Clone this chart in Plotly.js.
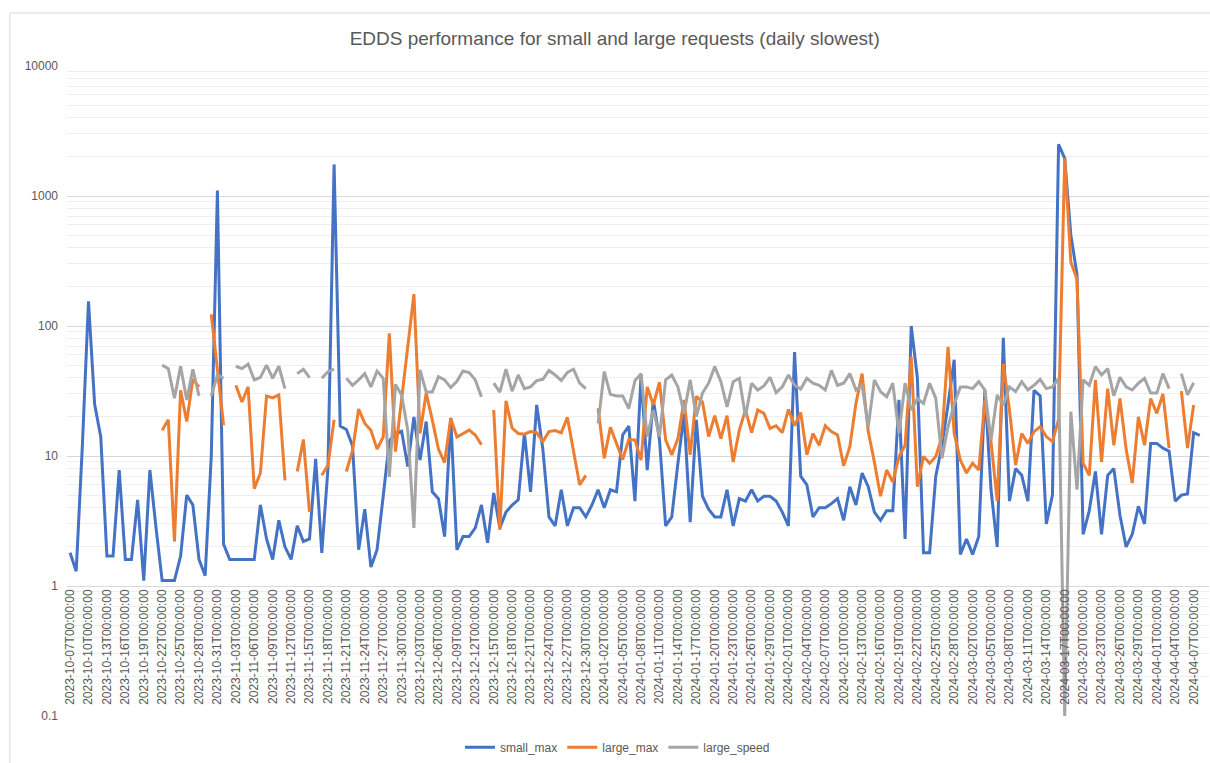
<!DOCTYPE html>
<html><head><meta charset="utf-8">
<script src="https://cdn.plot.ly/plotly-3.0.1.min.js"></script>
<style>html,body{margin:0;padding:0;background:#fff}#chart{width:1210px;height:763px}</style>
</head><body><div id="chart"></div>
<script>
// daily slowest values (seconds), one per day starting 2023-10-07
const smallMax = [1.8,1.3,12,155,25,14,1.7,1.7,7.8,1.6,1.6,4.6,1.1,7.8,2.8,1.1,1.1,1.1,1.7,5.0,
4.2,1.6,1.2,10,1100,2.1,1.6,1.6,1.6,1.6,1.6,4.2,2.3,1.6,3.2,2.0,1.6,2.9,2.2,2.3,
9.5,1.8,8,1750,17,16,12,1.9,3.9,1.4,1.9,4.9,13,15,15.5,8.3,20,9.3,18.4,5.3,
4.7,2.4,19.7,1.9,2.4,2.4,2.8,4.2,2.15,5.2,2.8,3.7,4.2,4.6,15,5.3,24.7,11.3,3.4,2.9,
5.5,2.9,4.0,4.0,3.4,4.2,5.5,4.0,5.5,5.3,14.5,17,4.5,42,7.8,27,13.3,2.9,3.4,8.8,
21,3.1,19,4.9,3.9,3.4,3.4,5.5,2.9,4.7,4.5,5.5,4.5,4.9,4.9,4.5,3.7,2.9,63,7.0,
6.0,3.4,4.0,4.0,4.3,4.7,3.2,5.8,4.2,7.4,5.8,3.7,3.2,3.8,3.8,27,2.3,100,40,1.8,
1.8,7,12,25,55,1.75,2.3,1.75,2.4,32,5.5,2.0,81,4.5,8.0,7.1,4.5,32,29,3.0,
5.0,2500,1950,500,250,2.5,3.8,7.6,2.5,7.1,8.0,3.5,2.0,2.5,4.1,3.0,12.5,12.5,11.5,10.9,
4.5,5.0,5.1,15.1,14.4,null];

const largeMax = [null,null,null,null,null,null,null,null,null,null,null,null,null,null,null,15.8,19,2.2,32,18.4,
39,34,null,123,45,17.3,null,35,26,34,5.6,7.4,29,28,29.5,6.5,null,7.6,13.4,3.7,
null,7.1,8.5,19,null,7.6,11,23,17.8,15.8,11.3,14,88,10.8,27,70,176,14.9,30.5,18.9,
11.3,8.9,19.5,14,14.9,15.8,14.5,12.2,null,22.6,2.7,26.6,16.4,14.9,14.7,15.4,15.1,12.9,15.4,15.7,
15.1,19.8,11.1,6.0,7.1,null,23.3,9.6,16.6,12.5,9.4,13.4,13.3,9.3,34,24.7,37,13.3,10.2,13.6,
27,10.2,28.7,26,14.1,20.4,13.6,20.4,9.0,15.8,22.6,15.1,22.6,21.3,16.3,17.1,15.1,22.8,17.1,21.6,
10.2,14.9,12.1,17.1,15.4,14.5,8.4,11.8,25.4,43,15.4,9.0,4.9,7.8,6.3,9.9,12.1,58,5.8,9.9,
8.8,9.9,14,69,14.9,9.3,7.4,8.8,7.8,27,12.9,4.5,51,22.6,8.5,14.9,12.5,15.4,16.8,14.1,
12.9,19,1950,310,230,8.8,7.1,38.5,9.0,33,12.1,27.7,11.3,6.2,20,12.1,27.7,21.3,30,11.5,
null,31.6,11.5,24.7,null,null];

const largeSpeed = [null,null,null,null,null,null,null,null,null,null,null,null,null,null,null,50,47,27.8,49,27,
46.5,29,null,29,42,39.6,null,49,47,51,38.5,40.3,50,39.6,49,33,null,43,46.5,40,
null,39.6,44.5,46.5,null,39.6,35,38.5,43,34,45,39.6,6.9,35.5,29.5,15.8,2.8,46,31,31,
40.8,38.5,33.6,37.5,45,43.8,38.5,28.5,null,36.3,31,46.5,31.5,42,33,34,38,38.9,45.5,42,
38,44,46.5,36.3,33,null,17.8,44.5,29.8,29,29,23.2,38,43,14.1,22.6,14.1,38.5,42,34,
21.3,38.5,20.1,30.5,36.3,48.7,37.3,23.9,37.3,39.6,20.1,36.3,32.2,34.6,40.3,30.7,34,42,35,32.7,
39.6,36.3,35,32.2,45.6,35,36.3,43,32.2,35,16.8,38.5,31.3,28.5,36.3,14.9,36.3,22.6,27.7,25.4,
36.3,27.7,9.6,16.8,25,34,34,33,37.3,32.2,13.3,29.5,24.6,34,31.3,37.3,32.2,35,38.9,33,
34,39.6,0.1,21.9,5.5,38.5,35,48.7,42,47,29,40.3,34,32.2,36.3,39.6,30.5,30.5,43,33,
null,43,29.5,36.6,null,null];

const seriesNames = ['small_max','large_max','large_speed'];
const seriesColors = ['#4472C4','#ED7D31','#A5A5A5'];

const firstDay = '2023-10-07';
const dayCount = 186;
const categories = [];
(function(){
  const d0 = new Date(firstDay + 'T00:00:00Z');
  for (let i = 0; i < dayCount; i++) {
    const d = new Date(d0.getTime() + i * 86400000);
    categories.push(d.toISOString().slice(0,10) + 'T00:00:00');
  }
})();
const tickLabels = categories.filter((c, i) => i % 3 === 0);
const yTickVals = [0.1, 1, 10, 100, 1000, 10000];
const yTickText = ['0.1', '1', '10', '100', '1000', '10000'];
const minorVals = [];
for (let e = -1; e < 4; e++) for (let k = 2; k <= 9; k++) minorVals.push(k * Math.pow(10, e));

const data = [smallMax, largeMax, largeSpeed].map((ys, j) => ({
  type: 'scatter', mode: 'lines', name: seriesNames[j],
  x: categories, y: ys, connectgaps: false,
  line: {color: seriesColors[j], width: 3, shape: 'linear'},
  hoverinfo: 'skip'
}));

const layout = {
  width: 1210, height: 763,
  margin: {l: 67, r: 1, t: 66, b: 47},
  paper_bgcolor: '#ffffff', plot_bgcolor: '#ffffff',
  font: {family: 'Liberation Sans, Arial, sans-serif', color: '#595959', size: 12},
  title: {text: 'EDDS performance for small and large requests (daily slowest)',
    font: {family: 'Liberation Sans, Arial, sans-serif', size: 19, color: '#595959'},
    x: 0.508, xref: 'container', xanchor: 'center', y: 0.95, yref: 'container', yanchor: 'middle'},
  xaxis: {type: 'category', range: [-0.5, dayCount - 0.5], tickmode: 'array',
    tickvals: tickLabels, ticktext: tickLabels, tickangle: -90,
    tickfont: {size: 12, color: '#595959'}, showgrid: false, zeroline: false, showline: false,
    ticks: '', anchor: 'free', position: 0.2, automargin: false, fixedrange: true},
  yaxis: {type: 'log', range: [-1, 4], tickmode: 'array', tickvals: yTickVals, ticktext: yTickText,
    gridcolor: '#d9d9d9', gridwidth: 1, zeroline: false, showline: false, ticks: '',
    tickfont: {size: 12, color: '#595959'}, ticklabelstandoff: 8, automargin: false,
    minor: {tickmode: 'array', tickvals: minorVals, showgrid: true, gridcolor: '#efefef', gridwidth: 1, ticks: ''}},
  showlegend: true,
  legend: {orientation: 'h', x: 0.482, xanchor: 'center', y: -0.048, yanchor: 'middle',
    font: {size: 12, color: '#595959'}, bgcolor: 'rgba(0,0,0,0)'},
  shapes: [{type: 'rect', xref: 'paper', yref: 'paper', x0: -0.05, x1: 1.05, y0: -0.2, y1: 1.0815,
    line: {color: '#d9d9d9', width: 1}, layer: 'below'}]
};

Plotly.newPlot('chart', data, layout, {displayModeBar: false, staticPlot: true});
</script>
</body></html>
